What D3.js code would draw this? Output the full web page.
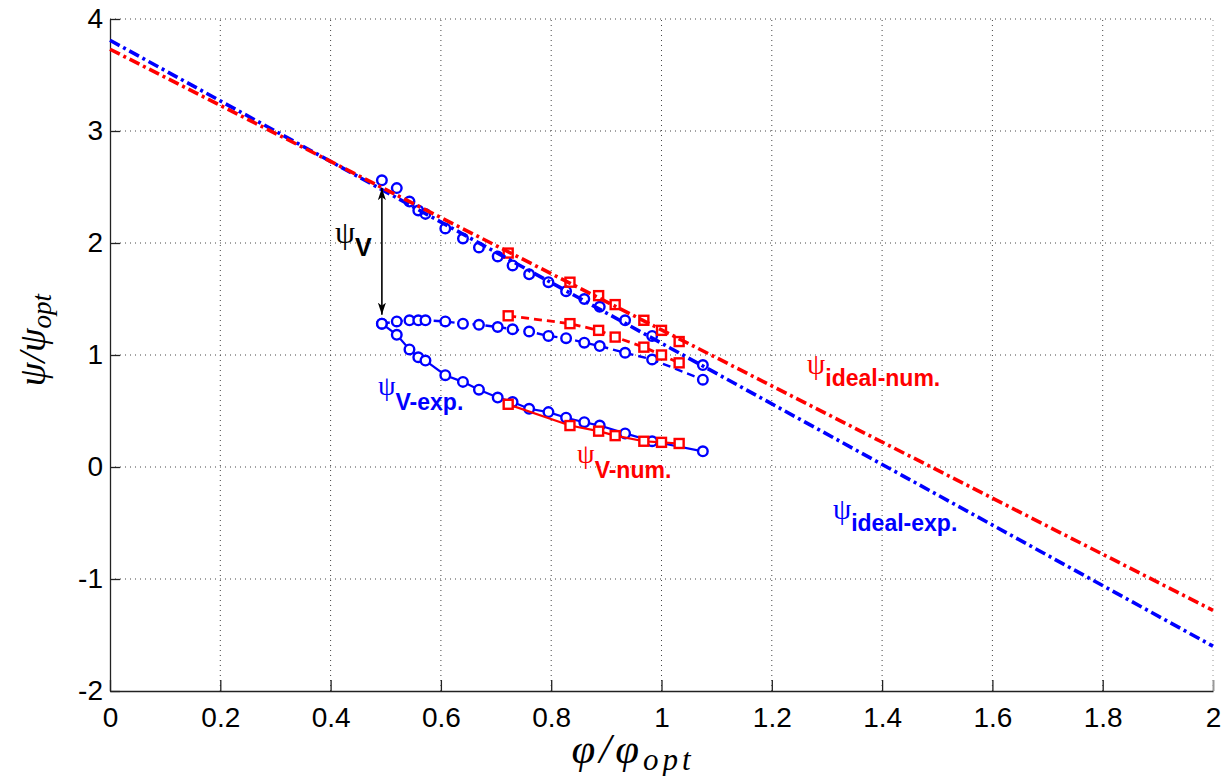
<!DOCTYPE html>
<meta charset="utf-8">
<head>
<title>psi vs phi</title>
<style>
body { margin: 0; background: #fff; }
.tick text { font-family: "Liberation Sans", Arial, sans-serif; font-size: 28px; fill: #000; }
.grid line { stroke: #444; stroke-width: 1; stroke-dasharray: 1,4; }
.lbl { font-family: "Liberation Serif", "DejaVu Serif", serif; font-style: italic; fill: #000; }
.ann-psi { font-family: "Liberation Serif", "DejaVu Serif", serif; }
.ann-sub { font-family: "Liberation Sans", Arial, sans-serif; font-weight: bold; }
</style>
</head>
<body>
<script src="https://cdn.jsdelivr.net/npm/d3@7"></script>
<div id="chart"></div>
<script>

// tick labels
var xTicks = [0, 0.2, 0.4, 0.6, 0.8, 1, 1.2, 1.4, 1.6, 1.8, 2];
var yTicks = [-2, -1, 0, 1, 2, 3, 4];

// ideal lines (straight, drawn over whole axis)
var idealPhi = [0, 2];
var idealExp = [3.81, -1.60];
var idealNum = [3.73, -1.28];

// experimental (blue circles)
var phiExp = [0.493, 0.520, 0.543, 0.559, 0.572, 0.608, 0.640, 0.669, 0.703, 0.730, 0.760, 0.795, 0.827, 0.860, 0.888, 0.934, 0.983, 1.075];
var psiExpTop = [2.56, 2.49, 2.37, 2.29, 2.26, 2.13, 2.04, 1.96, 1.88, 1.80, 1.72, 1.65, 1.57, 1.50, 1.43, 1.31, 1.17, 0.91];
var psiExpMid = [1.28, 1.30, 1.31, 1.31, 1.31, 1.30, 1.28, 1.27, 1.25, 1.23, 1.21, 1.17, 1.15, 1.11, 1.08, 1.02, 0.96, 0.78];
var psiVExp   = [1.28, 1.18, 1.05, 0.98, 0.95, 0.82, 0.76, 0.69, 0.62, 0.58, 0.52, 0.49, 0.44, 0.40, 0.37, 0.30, 0.23, 0.14];

// numerical (red squares)
var phiNum = [0.722, 0.834, 0.886, 0.916, 0.968, 1.000, 1.032];
var psiNumTop = [1.91, 1.65, 1.53, 1.45, 1.31, 1.22, 1.12];
var psiNumMid = [1.35, 1.28, 1.22, 1.16, 1.07, 1.00, 0.93];
var psiVNum   = [0.56, 0.37, 0.32, 0.28, 0.23, 0.22, 0.21];

var width = 1231, height = 776;

var x = d3.scaleLinear().domain([0, 2]).range([110, 1213]);
var y = d3.scaleLinear().domain([-2, 4]).range([691, 19]);

var svg = d3.select('#chart').append('svg')
    .attr('width', width)
    .attr('height', height);

var blue = '#0000ff', red = '#ff0000';

// grid
var grid = svg.append('g').attr('class', 'grid');
grid.selectAll('.gx').data(xTicks.slice(1)).enter().append('line')
    .attr('x1', d => x(d)).attr('x2', d => x(d))
    .attr('y1', y(-2)).attr('y2', y(4))
    .style('stroke', d => d === 2 ? '#999' : null);
grid.selectAll('.gy').data(yTicks.slice(1)).enter().append('line')
    .attr('x1', x(0)).attr('x2', x(2))
    .attr('y1', d => y(d)).attr('y2', d => y(d));

// axes
var fmt = d => String(d);
var xAxis = svg.append('g')
    .attr('transform', 'translate(0,' + y(-2) + ')')
    .call(d3.axisBottom(x).tickValues(xTicks).tickSizeInner(-11).tickSizeOuter(0).tickPadding(16).tickFormat(fmt));
var yAxis = svg.append('g')
    .attr('transform', 'translate(' + x(0) + ',0)')
    .call(d3.axisLeft(y).tickValues(yTicks).tickSizeInner(-10).tickSizeOuter(0).tickPadding(7).tickFormat(fmt));
[xAxis, yAxis].forEach(function (a) {
  a.select('.domain').attr('stroke', '#222').attr('stroke-width', 1.3);
  a.selectAll('.tick line').attr('stroke', '#222').attr('stroke-width', 1.3);
});
xAxis.selectAll('.tick text').attr('dy', '0.71em');
xAxis.selectAll('.tick').filter(d => d === 2).select('line').attr('stroke', '#999').attr('stroke-width', 2);

// series helpers
var line = d3.line().x(d => x(d[0])).y(d => y(d[1]));
function pts(xs, ys) { return xs.map((v, i) => [v, ys[i]]); }

function drawLine(data, color, w, dash) {
  svg.append('path').datum(data)
      .attr('d', line)
      .attr('fill', 'none')
      .attr('stroke', color)
      .attr('stroke-width', w)
      .attr('stroke-dasharray', dash || null);
}
function drawCircles(data, fill) {
  svg.append('g').selectAll('circle').data(data).enter().append('circle')
      .attr('cx', d => x(d[0])).attr('cy', d => y(d[1])).attr('r', 4.8)
      .attr('fill', fill).attr('stroke', blue).attr('stroke-width', 2.4);
}
function drawSquares(data, fill) {
  svg.append('g').selectAll('rect').data(data).enter().append('rect')
      .attr('x', d => x(d[0]) - 4.5).attr('y', d => y(d[1]) - 4.5)
      .attr('width', 9).attr('height', 9)
      .attr('fill', fill).attr('stroke', red).attr('stroke-width', 2.4);
}

// V (lower) and mid branches
drawLine(pts(phiExp, psiExpMid), blue, 2.4, '8,5');
drawCircles(pts(phiExp, psiExpMid), '#fff');
drawLine(pts(phiExp, psiVExp), blue, 2.2);
drawCircles(pts(phiExp, psiVExp), '#fff');
drawLine(pts(phiNum, psiNumMid), red, 2.8, '8,5');
drawSquares(pts(phiNum, psiNumMid), '#fff');
drawLine(pts(phiNum, psiVNum), red, 2.2);
drawSquares(pts(phiNum, psiVNum), '#fff');

// top branch markers
drawCircles(pts(phiExp, psiExpTop), 'none');
drawSquares(pts(phiNum, psiNumTop), 'none');

// ideal lines
drawLine(pts(idealPhi, idealExp), blue, 3.6, '11,4,3,4');
drawLine(pts(idealPhi, idealNum), red, 3.6, '11,4,3,4');

// double arrow psi_V
svg.append('defs').append('marker')
    .attr('id', 'ah').attr('viewBox', '0 0 12 10').attr('refX', 12).attr('refY', 5)
    .attr('markerWidth', 12).attr('markerHeight', 10).attr('markerUnits', 'userSpaceOnUse')
    .attr('orient', 'auto-start-reverse')
  .append('path').attr('d', 'M0,1 L12,5 L0,9 L3,5 Z').attr('fill', '#000');
svg.append('line')
    .attr('x1', x(0.493)).attr('x2', x(0.493))
    .attr('y1', y(2.49)).attr('y2', y(1.36))
    .attr('stroke', '#000').attr('stroke-width', 1.6)
    .attr('marker-start', 'url(#ah)').attr('marker-end', 'url(#ah)');

// annotations
function ann(px, py, sub, color, psiSize, subSize, rise) {
  var t = svg.append('text').attr('x', x(px)).attr('y', y(py)).attr('fill', color);
  t.append('tspan').attr('class', 'ann-psi').attr('font-size', psiSize).attr('dy', -rise).text('ψ');
  t.append('tspan').attr('class', 'ann-sub').attr('font-size', subSize).attr('dy', rise).text(sub);
}
ann(0.408, 1.884, 'V', '#000', 32, 25, 13);
ann(0.486, 0.509, 'V-exp.', blue, 28, 23, 15);
ann(0.847, -0.098, 'V-num.', red, 28, 23, 15);
ann(1.264, 0.723, 'ideal-num.', red, 29, 23, 12);
ann(1.311, -0.571, 'ideal-exp.', blue, 29, 23, 12);

// axis labels
var xl = svg.append('text').attr('class', 'lbl').attr('x', 633).attr('y', 763)
    .attr('text-anchor', 'middle').attr('font-size', 43).attr('letter-spacing', 4);
xl.append('tspan').text('φ/φ');
xl.append('tspan').attr('font-size', 31).attr('dy', 7).text('opt');

var yl = svg.append('text').attr('class', 'lbl')
    .attr('transform', 'translate(45,340) rotate(-90)')
    .attr('text-anchor', 'middle').attr('font-size', 38);
yl.append('tspan').text('ψ/ψ');
yl.append('tspan').attr('font-size', 27).attr('dy', 6).text('opt');

</script>
</body>
